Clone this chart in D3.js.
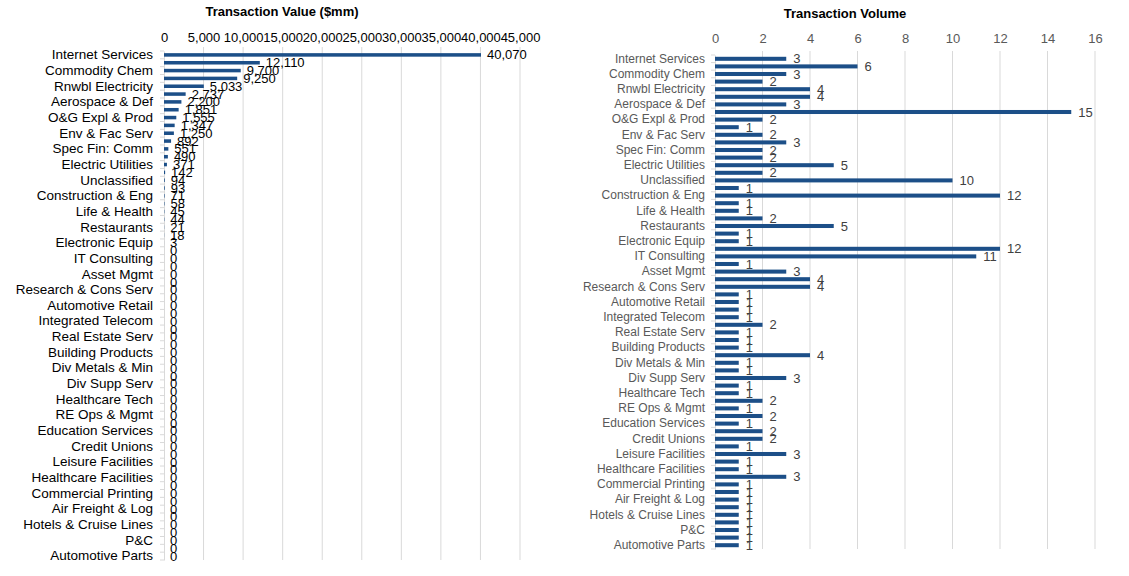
<!DOCTYPE html>
<html>
<head>
<meta charset="utf-8">
<script src="https://cdn.jsdelivr.net/npm/d3@7"></script>
<style>
	body { margin: 0; background: #fff; }
	svg { font-family: "Liberation Sans", Arial, sans-serif; }
</style>
</head>
<body>
<svg id="chart" width="1129" height="576"></svg>
<script>
// category labels, every other one is hidden like in the source (Excel skips them)
const categories = [
	'Internet Services', '', 'Commodity Chem', '', 'Rnwbl Electricity', '', 'Aerospace & Def', '',
	'O&G Expl & Prod', '', 'Env & Fac Serv', '', 'Spec Fin: Comm', '', 'Electric Utilities', '',
	'Unclassified', '', 'Construction & Eng', '', 'Life & Health', '', 'Restaurants', '',
	'Electronic Equip', '', 'IT Consulting', '', 'Asset Mgmt', '', 'Research & Cons Serv', '',
	'Automotive Retail', '', 'Integrated Telecom', '', 'Real Estate Serv', '', 'Building Products', '',
	'Div Metals & Min', '', 'Div Supp Serv', '', 'Healthcare Tech', '', 'RE Ops & Mgmt', '',
	'Education Services', '', 'Credit Unions', '', 'Leisure Facilities', '', 'Healthcare Facilities', '',
	'Commercial Printing', '', 'Air Freight & Log', '', 'Hotels & Cruise Lines', '', 'P&C', '',
	'Automotive Parts'
];

const transactionValue = [
	40070, 12110, 9700, 9250, 5033, 2737, 2200, 1851, 1555, 1347, 1250, 892, 551, 490, 371, 142,
	94, 93, 71, 58, 45, 44, 21, 18, 3, 0, 0, 0, 0, 0, 0, 0,
	0, 0, 0, 0, 0, 0, 0, 0, 0, 0, 0, 0, 0, 0, 0, 0,
	0, 0, 0, 0, 0, 0, 0, 0, 0, 0, 0, 0, 0, 0, 0, 0,
	0
];

const transactionVolume = [
	3, 6, 3, 2, 4, 4, 3, 15, 2, 1, 2, 3, 2, 2, 5, 2,
	10, 1, 12, 1, 1, 2, 5, 1, 1, 12, 11, 1, 3, 4, 4, 1,
	1, 1, 1, 2, 1, 1, 1, 4, 1, 1, 3, 1, 1, 2, 1, 2,
	1, 2, 2, 1, 3, 1, 1, 3, 1, 1, 1, 1, 1, 1, 1, 1,
	1
];

const valueTicks = [0, 5000, 10000, 15000, 20000, 25000, 30000, 35000, 40000, 45000];
const volumeTicks = [0, 2, 4, 6, 8, 10, 12, 14, 16];

const barColor = '#1c4f88';
const gridColor = '#d9d9d9';

let svg = d3.select('#chart');
let idx = d3.range(categories.length);

function drawPanel(opt) {
	let g = svg.append('g');

	let x = d3.scaleLinear()
		.domain([0, opt.max])
		.range(opt.xRange);

	let y = d3.scaleBand()
		.domain(idx)
		.range(opt.yRange)
		.paddingInner(opt.pad)
		.paddingOuter(opt.pad / 2);

	// gridlines
	g.selectAll('.grid')
		.data(opt.ticks.slice(1))
		.enter()
		.append('line')
		.attr('x1', (d) => x(d))
		.attr('x2', (d) => x(d))
		.attr('y1', opt.yRange[0] - 4)
		.attr('y2', opt.yRange[1])
		.attr('stroke', gridColor)
		.attr('stroke-width', 1);

	// top value axis, labels only
	let xAxis = d3.axisTop(x)
		.tickValues(opt.ticks)
		.tickFormat(opt.fmt)
		.tickSize(0)
		.tickPadding(0);

	let xg = g.append('g')
		.attr('transform', 'translate(0,' + opt.tickY + ')')
		.call(xAxis);

	xg.select('.domain').remove();
	xg.selectAll('text')
		.attr('font-size', opt.tickFont)
		.attr('fill', opt.tickColor)
		.attr('font-family', null);

	// category axis
	let catAxis = d3.axisLeft(y)
		.tickFormat((i) => categories[i])
		.tickSize(0)
		.tickPadding(opt.labelPad);

	let yg = g.append('g')
		.attr('transform', 'translate(' + opt.xRange[0] + ',0)')
		.call(catAxis);

	yg.select('.domain').attr('stroke', gridColor);
	yg.selectAll('text')
		.attr('font-size', opt.labelFont)
		.attr('fill', opt.labelColor)
		.attr('font-family', null);

	// small tick marks between the categories
	let step = y.step();
	g.selectAll('.cattick')
		.data(d3.range(categories.length + 1))
		.enter()
		.append('line')
		.attr('x1', opt.xRange[0] - 4)
		.attr('x2', opt.xRange[0])
		.attr('y1', (i) => opt.yRange[0] + i * step)
		.attr('y2', (i) => opt.yRange[0] + i * step)
		.attr('stroke', gridColor);

	// bars
	g.selectAll('.bar')
		.data(opt.values)
		.enter()
		.append('rect')
		.attr('x', x(0))
		.attr('y', (d, i) => y(i))
		.attr('width', (d) => x(d) - x(0))
		.attr('height', y.bandwidth())
		.attr('fill', barColor);

	// data labels
	g.selectAll('.lbl')
		.data(opt.values)
		.enter()
		.append('text')
		.attr('x', (d) => x(d) + opt.valuePad)
		.attr('y', (d, i) => y(i) + y.bandwidth() / 2)
		.attr('dy', '0.35em')
		.attr('font-size', opt.valueFont)
		.attr('fill', opt.valueColor)
		.text((d) => opt.fmt(d));

	// title
	g.append('text')
		.attr('x', opt.titleX)
		.attr('y', opt.titleY)
		.attr('text-anchor', 'middle')
		.attr('font-size', 13)
		.attr('font-weight', 'bold')
		.attr('fill', '#000')
		.text(opt.title);
}

drawPanel({
	title: 'Transaction Value ($mm)',
	titleX: 282,
	titleY: 16,
	values: transactionValue,
	max: 45000,
	ticks: valueTicks,
	fmt: d3.format(','),
	xRange: [164, 520],
	yRange: [51, 560],
	pad: 0.55,
	tickY: 42,
	tickFont: 13,
	tickColor: '#000',
	labelPad: 11,
	labelFont: 13.5,
	labelColor: '#000',
	valuePad: 6,
	valueFont: 13,
	valueColor: '#000'
});

drawPanel({
	title: 'Transaction Volume',
	titleX: 845,
	titleY: 18,
	values: transactionVolume,
	max: 16,
	ticks: volumeTicks,
	fmt: d3.format('d'),
	xRange: [715, 1095],
	yRange: [55, 549],
	pad: 0.47,
	tickY: 43,
	tickFont: 13,
	tickColor: '#595959',
	labelPad: 10,
	labelFont: 12,
	labelColor: '#595959',
	valuePad: 7,
	valueFont: 13,
	valueColor: '#404040'
});
</script>
</body>
</html>
